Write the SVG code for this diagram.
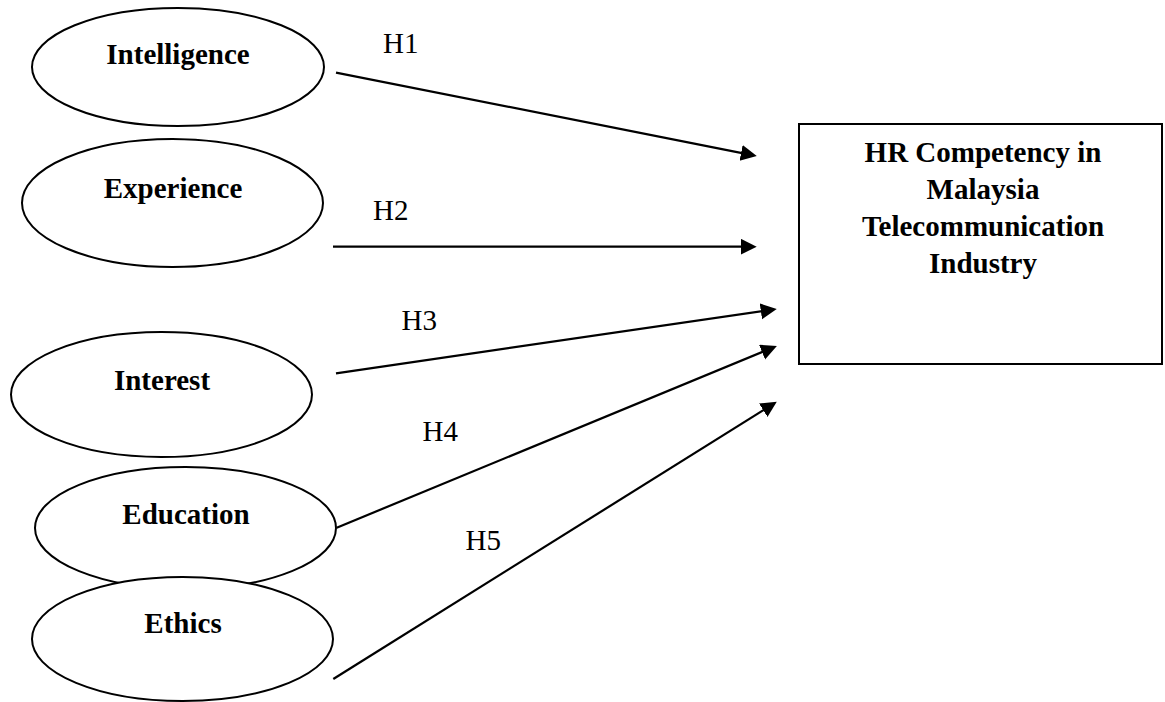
<svg xmlns="http://www.w3.org/2000/svg" width="1165" height="702" viewBox="0 0 1165 702">
<style>
.node ellipse{fill:#fff;stroke:#000;stroke-width:2}
.node rect{fill:#fff;stroke:#000;stroke-width:2}
.lbl{font-family:"Liberation Serif","Times New Roman",serif;font-size:29px;font-weight:bold;text-anchor:middle;fill:#000}
.h{font-family:"Liberation Serif","Times New Roman",serif;font-size:29px;fill:#000}
.conn line{stroke:#000;stroke-width:2.2}
</style>
<defs>
<marker id="arr" markerUnits="userSpaceOnUse" markerWidth="18" markerHeight="18" refX="10" refY="8" orient="auto">
<path d="M0,0 L16,8 L0,16 z" fill="#000"/>
</marker>
</defs>
<rect width="1165" height="702" fill="#fff"/>
<g id="intelligence" class="node">
<ellipse cx="178" cy="67" rx="146" ry="59"/>
<text class="lbl" x="178" y="64">Intelligence</text>
</g>
<g id="experience" class="node">
<ellipse cx="172.5" cy="203" rx="150.5" ry="64"/>
<text class="lbl" x="173" y="198">Experience</text>
</g>
<g id="interest" class="node">
<ellipse cx="161.5" cy="394.5" rx="150.5" ry="62.5"/>
<text class="lbl" x="162" y="390">Interest</text>
</g>
<g id="education" class="node">
<ellipse cx="185.5" cy="528" rx="150.5" ry="61"/>
<text class="lbl" x="186" y="524">Education</text>
</g>
<g id="ethics" class="node">
<ellipse cx="182.5" cy="639" rx="150.5" ry="62"/>
<text class="lbl" x="183" y="633">Ethics</text>
</g>
<g id="hr" class="node">
<rect x="799" y="124" width="363" height="240"/>
<text class="lbl" x="983" y="162">HR Competency in</text>
<text class="lbl" x="983" y="199">Malaysia</text>
<text class="lbl" x="983" y="236">Telecommunication</text>
<text class="lbl" x="983" y="273">Industry</text>
</g>
<g id="connectors" class="conn">
<line x1="336" y1="72.7" x2="750.9" y2="154.8" marker-end="url(#arr)"/>
<line x1="333" y1="246.7" x2="750.7" y2="246.7" marker-end="url(#arr)"/>
<line x1="336" y1="373.3" x2="770.8" y2="309.9" marker-end="url(#arr)"/>
<line x1="336.7" y1="527.7" x2="771.3" y2="348.3" marker-end="url(#arr)"/>
<line x1="333.3" y1="679" x2="771.7" y2="404.9" marker-end="url(#arr)"/>
</g>
<g id="labels">
<text class="h" x="383" y="53">H1</text>
<text class="h" x="373" y="220">H2</text>
<text class="h" x="401.5" y="330">H3</text>
<text class="h" x="422.5" y="440.5">H4</text>
<text class="h" x="465.5" y="550">H5</text>
</g>
</svg>
